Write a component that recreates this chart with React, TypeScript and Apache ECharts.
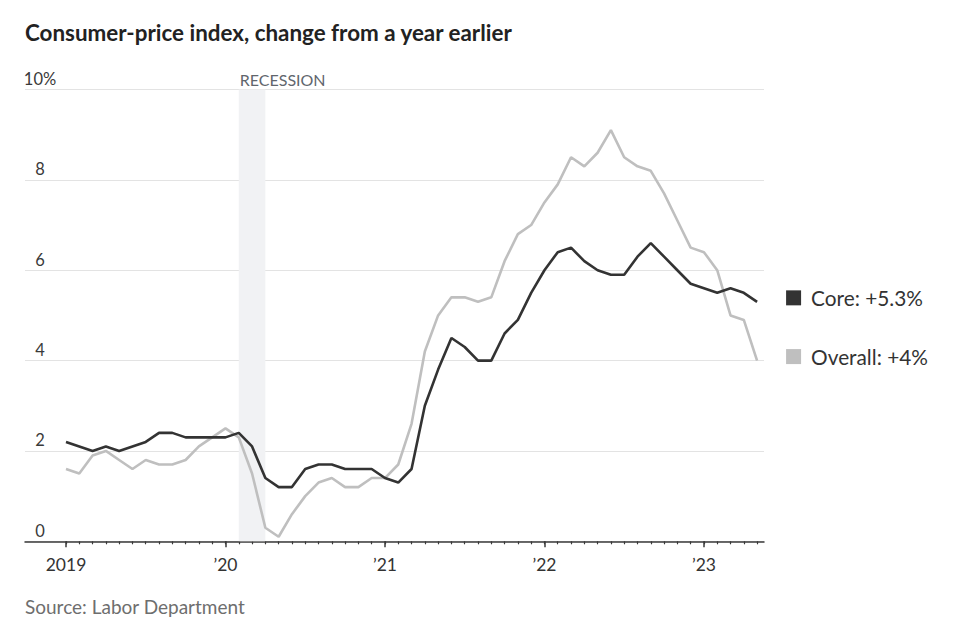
import React, { useEffect, useRef } from "react";
import * as echarts from "echarts";

// Monthly CPI, year-over-year % change, Jan 2019 – May 2023
const overall = [
  1.6, 1.5, 1.9, 2.0, 1.8, 1.6, 1.8, 1.7, 1.7, 1.8, 2.1, 2.3,
  2.5, 2.3, 1.5, 0.3, 0.1, 0.6, 1.0, 1.3, 1.4, 1.2, 1.2, 1.4,
  1.4, 1.7, 2.6, 4.2, 5.0, 5.4, 5.4, 5.3, 5.4, 6.2, 6.8, 7.0,
  7.5, 7.9, 8.5, 8.3, 8.6, 9.1, 8.5, 8.3, 8.2, 7.7, 7.1, 6.5,
  6.4, 6.0, 5.0, 4.9, 4.0,
];
const core = [
  2.2, 2.1, 2.0, 2.1, 2.0, 2.1, 2.2, 2.4, 2.4, 2.3, 2.3, 2.3,
  2.3, 2.4, 2.1, 1.4, 1.2, 1.2, 1.6, 1.7, 1.7, 1.6, 1.6, 1.6,
  1.4, 1.3, 1.6, 3.0, 3.8, 4.5, 4.3, 4.0, 4.0, 4.6, 4.9, 5.5,
  6.0, 6.4, 6.5, 6.2, 6.0, 5.9, 5.9, 6.3, 6.6, 6.3, 6.0, 5.7,
  5.6, 5.5, 5.6, 5.5, 5.3,
];
const yearLabels = ["2019", "\u201920", "\u201921", "\u201922", "\u201923"];
const yearStartIndex = [0, 12, 24, 36, 48];
const recession = [13, 15]; // Feb 2020 – Apr 2020 (month index)
const yTicks = [0, 2, 4, 6, 8, 10];

const FONT = "Lato, 'Noto Sans', sans-serif";

export default function App() {
  const ref = useRef<HTMLDivElement>(null);
  useEffect(() => {
    document.body.style.margin = "0";
    const chart = echarts.init(ref.current!, undefined, { renderer: "svg" });
    const toPairs = (arr: number[]) => arr.map((v, i) => [i, v]);
    const monthIdx = core.map((_, i) => i);
    const xMin = -3.085;
    const xMax = 52.52;
    chart.setOption({
      animation: false,
      textStyle: { fontFamily: FONT },
      title: [
        {
          text: "Consumer-price index, change from a year earlier",
          left: 25,
          top: 21,
          padding: 0,
          textStyle: { fontFamily: FONT, fontSize: 22.4, fontWeight: "bold", color: "#222" },
        },
        {
          text: "Source: Labor Department",
          left: 25,
          top: 597,
          padding: 0,
          textStyle: { fontFamily: FONT, fontSize: 19, fontWeight: "normal", color: "#6e6e6e" },
        },
      ],
      grid: { left: 25, right: 198, top: 89.5, bottom: 93.7, containLabel: false },
      xAxis: [
        {
          type: "value",
          position: "bottom",
          min: xMin,
          max: xMax,
          axisLine: { show: true, lineStyle: { color: "#3a3a3a", width: 1.5 } },
          axisTick: {
            show: true,
            customValues: yearStartIndex,
            length: 6,
            lineStyle: { color: "#3a3a3a", width: 1.5 },
          },
          axisLabel: {
            show: true,
            customValues: yearStartIndex,
            margin: 14,
            fontFamily: FONT,
            fontSize: 17.5,
            color: "#333",
            formatter: (v: number) => yearLabels[yearStartIndex.indexOf(Math.round(v))] ?? "",
          },
          splitLine: { show: false },
        },
        {
          type: "value",
          position: "bottom",
          min: xMin,
          max: xMax,
          axisLine: { show: false },
          axisTick: {
            show: true,
            customValues: monthIdx,
            length: 3,
            lineStyle: { color: "#3a3a3a", width: 1.2 },
          },
          axisLabel: { show: false },
          splitLine: { show: false },
        },
      ],
      yAxis: {
        type: "value",
        min: 0,
        max: 10,
        interval: 2,
        axisLine: { show: false },
        axisTick: { show: false },
        splitLine: { show: true, lineStyle: { color: "#e3e3e3", width: 1 } },
        axisLabel: {
          inside: true,
          margin: 15,
          align: "center",
          verticalAlign: "bottom",
          padding: [0, 0, 2, 0],
          fontFamily: FONT,
          fontSize: 16.5,
          color: "#3a3a3a",
          formatter: (v: number) => (v === yTicks[yTicks.length - 1] ? v + "%" : String(v)),
        },
      },
      series: [
        {
          name: "Overall",
          type: "line",
          xAxisIndex: 0,
          data: toPairs(overall),
          symbol: "none",
          lineStyle: { color: "#bfbfbf", width: 2.6 },
          itemStyle: { color: "#bfbfbf" },
          z: 3,
          markArea: {
            silent: true,
            itemStyle: { color: "#f1f2f4" },
            label: {
              show: true,
              position: [1, -18],
              fontFamily: FONT,
              fontSize: 16,
              color: "#5f666d",
            },
            data: [[{ xAxis: recession[0], name: "RECESSION" }, { xAxis: recession[1] }]],
            z: 1,
          },
          endLabel: {
            show: true,
            distance: 29,
            offset: [0, -4],
            formatter: (p: any) => `{sq|}{t|Overall: +${p.value[1]}%}`,
            rich: {
              sq: { width: 15, height: 15, backgroundColor: "#bfbfbf" },
              t: { fontFamily: FONT, fontSize: 20.8, color: "#333", padding: [0, 0, 0, 10] },
            },
          },
        },
        {
          name: "Core",
          type: "line",
          xAxisIndex: 0,
          data: toPairs(core),
          symbol: "none",
          lineStyle: { color: "#333333", width: 2.6 },
          itemStyle: { color: "#333333" },
          z: 4,
          endLabel: {
            show: true,
            distance: 29,
            offset: [0, -4],
            formatter: (p: any) => `{sq|}{t|Core: +${p.value[1]}%}`,
            rich: {
              sq: { width: 15, height: 15, backgroundColor: "#333333" },
              t: { fontFamily: FONT, fontSize: 20.8, color: "#333", padding: [0, 0, 0, 10] },
            },
          },
        },
      ],
    });
    return () => chart.dispose();
  }, []);
  return <div ref={ref} style={{ width: 962, height: 635 }} />;
}
